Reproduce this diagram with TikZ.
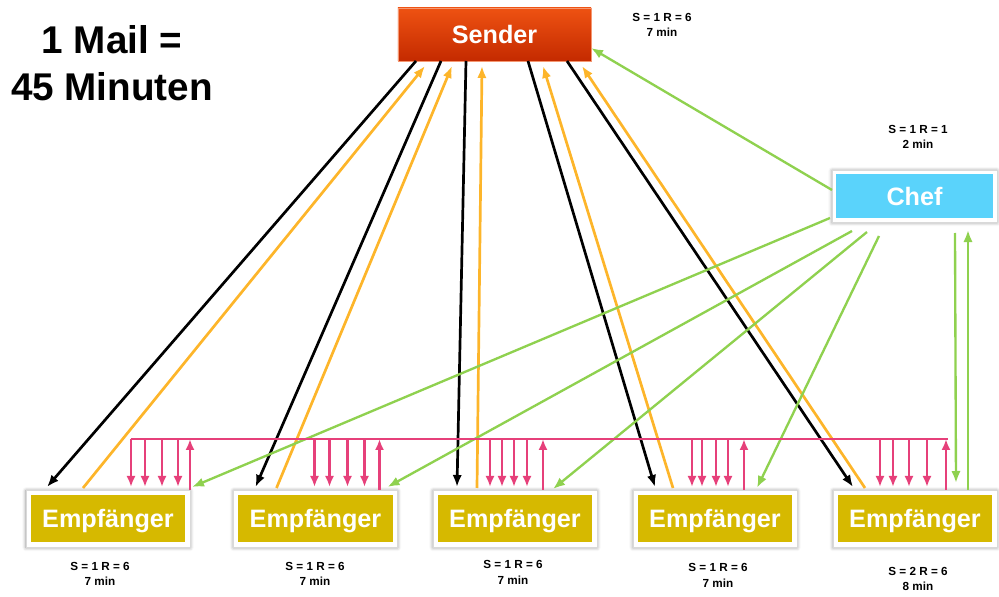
\documentclass[tikz,border=0pt]{standalone}
\usepackage{fontspec}
\setmainfont{Liberation Sans}
\usetikzlibrary{arrows.meta,shadows.blur}

\definecolor{sendertop}{HTML}{EE5212}
\definecolor{senderbottom}{HTML}{C42A00}
\definecolor{chefblue}{HTML}{5AD3FB}
\definecolor{empyellow}{HTML}{D6B900}
\definecolor{mailpink}{HTML}{E6407A}
\definecolor{mailorange}{HTML}{FDB52A}
\definecolor{mailgreen}{HTML}{8FD14F}

\begin{document}
\begin{tikzpicture}[x=0.03cm,y=-0.03cm,
		% the framed boxes (white frame, soft shadow)
		framebox/.style={
		rectangle,
		outer sep=0pt,
		fill=white,
		draw=black!15,
		blur shadow={shadow xshift=0pt,shadow yshift=-0.6pt,shadow blur radius=3pt,shadow opacity=45},
		text=white,
		font=\fontsize{21.5}{26}\selectfont\bfseries
		},
		senderbox/.style={
		rectangle,
		outer sep=0pt,
		minimum width=5.79cm,
		minimum height=1.59cm,
		draw=sendertop!60!white,
		top color=sendertop,
		bottom color=senderbottom,
		text=white,
		font=\fontsize{21.5}{26}\selectfont\bfseries
		},
		chefbox/.style={framebox,
		minimum width=4.95cm,
		minimum height=1.56cm,
		path picture={\fill[chefblue] ([shift={(4,-4)}]path picture bounding box.south west) rectangle ([shift={(-4,4)}]path picture bounding box.north east);}
		},
		empbox/.style={framebox,
		minimum width=4.92cm,
		minimum height=1.71cm,
		text depth=0pt,
		path picture={\fill[empyellow] ([shift={(5,-5)}]path picture bounding box.south west) rectangle ([shift={(-5,5)}]path picture bounding box.north east);}
		},
		countlabel/.style={align=center, font=\fontsize{10}{13.5}\selectfont\bfseries},
		% connectors
		blackarrow/.style={draw=black, line width=2.3pt, -{Latex[length=3.6mm,width=2.8mm]}},
		orangearrow/.style={draw=mailorange, line width=2.3pt, -{Latex[length=3.6mm,width=2.8mm]}},
		greenarrow/.style={draw=mailgreen, line width=2pt, -{Latex[length=3.6mm,width=2.8mm]}},
		pinkarrow/.style={draw=mailpink, line width=2.1pt, -{Latex[length=3.3mm,width=2.7mm]}}
	]
	\useasboundingbox (0,0) rectangle (999,597);

	\node (T)[align=center, font=\fontsize{33}{40}\selectfont\bfseries] at (112,63) {1 Mail =\\45 Minuten};

	\node (S)[senderbox] at (494.5,34.5) {Sender};
	\node (C)[chefbox] at (914.5,196) {Chef};
	\node (E1)[empbox] at (108,518.5) {Empfänger};
	\node (E2)[empbox] at (315.5,518.5) {Empfänger};
	\node (E3)[empbox] at (515,518.5) {Empfänger};
	\node (E4)[empbox] at (715,518.5) {Empfänger};
	\node (E5)[empbox] at (915,518.5) {Empfänger};

	\node (LS)[countlabel] at (662,25) {S = 1 R = 6\\7 min};
	\node (LC)[countlabel] at (918,137) {S = 1 R = 1\\2 min};
	\node (L1)[countlabel] at (100,574) {S = 1 R = 6\\7 min};
	\node (L2)[countlabel] at (315,574) {S = 1 R = 6\\7 min};
	\node (L3)[countlabel] at (513,572) {S = 1 R = 6\\7 min};
	\node (L4)[countlabel] at (718,575) {S = 1 R = 6\\7 min};
	\node (L5)[countlabel] at (918,579) {S = 2 R = 6\\8 min};

	% Sender -> Empfaenger and back
	\foreach \e/\s/\t in {E1/18/21, E2/43/22, E3/68/24, E4/130/22, E5/169/20}
		\draw[blackarrow] ([shift={(\s,0)}]S.south west) -- ([shift={(\t,-3)}]\e.north west);
	\foreach \e/\s/\t in {E1/57/27, E2/43/54, E3/44/84, E4/40/145, E5/32/184}
		\draw[orangearrow] ([shift={(\s,-2)}]\e.north west) -- ([shift={(\t,5)}]S.south west);

	% Chef
	\draw[greenarrow] ([shift={(0,-6)}]C.west) -- ([shift={(0,-13)}]S.south east);
	\draw[greenarrow] ([shift={(-2,-4)}]C.south west) -- ([shift={(2,-3)}]E1.north east);
	\draw[greenarrow] ([shift={(20,9)}]C.south west) -- ([shift={(-10,-3)}]E2.north east);
	\draw[greenarrow] ([shift={(35,10)}]C.south west) -- ([shift={(120,-1)}]E3.north west);
	\draw[greenarrow] ([shift={(47,14)}]C.south west) -- ([shift={(124,-2)}]E4.north west);
	\draw[greenarrow] ([shift={(123,11)}]C.south west) -- ([shift={(123,-7)}]E5.north west);
	\draw[greenarrow] ([shift={(135,0)}]E5.north west) -- ([shift={(136,8)}]C.south west);

	% reply-all bus
	\draw[draw=mailpink, line width=2.1pt] ([shift={(105,-51)}]E1.north west) -- ([shift={(115,-51)}]E5.north west);
	\foreach \e/\offs/\up in {E1/{105,119,136,152}/164, E2/{81,96,114,131}/146, E3/{57,69,81,94}/110, E4/{59,69,83,95}/111, E5/{47,60,76,94}/113}{
		\foreach \o in \offs
			\draw[pinkarrow] ([shift={(\o,-51)}]\e.north west) -- ([shift={(\o,-3)}]\e.north west);
		\draw[pinkarrow] ([shift={(\up,0)}]\e.north west) -- ([shift={(\up,-51)}]\e.north west);
	}
\end{tikzpicture}
\end{document}
